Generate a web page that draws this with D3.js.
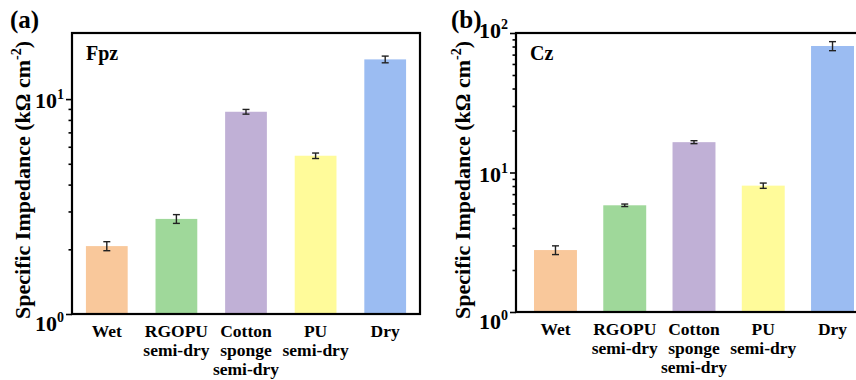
<!DOCTYPE html>
<html>
<head>
<meta charset="utf-8">
<script src="https://cdn.jsdelivr.net/npm/d3@7"></script>
<style>
  body { margin: 0; background: #fff; }
</style>
</head>
<body>
<div id="chart"></div>
<script>
// categories (multi-line labels)
const categories = ["Wet", "RGOPU|semi-dry", "Cotton|sponge|semi-dry", "PU|semi-dry", "Dry"];
const barColors = ["#f9c89b", "#9fd89a", "#c0b0d6", "#fffb9a", "#9bbcf2"];

// panel (a) Fpz
const fpzValues = [2.07, 2.77, 8.73, 5.45, 15.3];
const fpzErrors = [0.10, 0.13, 0.22, 0.16, 0.55];

// panel (b) Cz
const czValues = [2.78, 5.82, 16.5, 8.05, 80.7];
const czErrors = [0.20, 0.12, 0.40, 0.35, 6.0];

const width = 856, height = 380;
const FONT = "'Liberation Serif', 'Times New Roman', Times, serif";

const svg = d3.select("#chart").append("svg")
    .attr("width", width)
    .attr("height", height)
    .style("display", "block");

function drawPanel(opts) {
    const {left, right, top, bottom, domain, values, errors, tag, name,
           majors, minors, padIn, padOut, titleX, tagX} = opts;

    const g = svg.append("g");

    const x = d3.scaleBand()
        .domain(d3.range(categories.length))
        .range([left, right])
        .paddingInner(padIn)
        .paddingOuter(padOut);

    const y = d3.scaleLog()
        .domain(domain)
        .range([bottom, top]);

    // bars
    g.selectAll("rect.bar")
        .data(values)
        .enter().append("rect")
        .attr("class", "bar")
        .attr("x", (d, i) => x(i))
        .attr("y", d => y(d))
        .attr("width", x.bandwidth())
        .attr("height", d => bottom - y(d))
        .style("fill", (d, i) => barColors[i]);

    // error bars
    const eb = g.selectAll("g.err")
        .data(values)
        .enter().append("g").attr("class", "err")
        .style("stroke", "#222")
        .style("stroke-width", 1.4);
    const cx = i => x(i) + x.bandwidth() / 2;
    eb.append("line")
        .attr("x1", (d, i) => cx(i)).attr("x2", (d, i) => cx(i))
        .attr("y1", (d, i) => y(d + errors[i])).attr("y2", (d, i) => y(d - errors[i]));
    eb.append("line")
        .attr("x1", (d, i) => cx(i) - 3.5).attr("x2", (d, i) => cx(i) + 3.5)
        .attr("y1", (d, i) => y(d + errors[i])).attr("y2", (d, i) => y(d + errors[i]));
    eb.append("line")
        .attr("x1", (d, i) => cx(i) - 3.5).attr("x2", (d, i) => cx(i) + 3.5)
        .attr("y1", (d, i) => y(d - errors[i])).attr("y2", (d, i) => y(d - errors[i]));

    // minor + major ticks
    const minorAxis = d3.axisLeft(y).tickValues(minors).tickFormat("").tickSize(3.5).tickSizeOuter(0);
    const majorAxis = d3.axisLeft(y).tickValues(majors).tickFormat("").tickSize(6).tickSizeOuter(0);
    [minorAxis, majorAxis].forEach(ax => {
        const a = g.append("g")
            .attr("transform", `translate(${left},0)`)
            .call(ax);
        a.select(".domain").remove();
        a.selectAll("line").style("stroke", "#000").style("stroke-width", 1.6);
    });

    // major tick labels 10^n (the bottom one sits a bit lower, the top one a bit higher)
    const lab = g.selectAll("text.ytick")
        .data(majors)
        .enter().append("text")
        .attr("class", "ytick")
        .attr("x", left - 8)
        .attr("y", d => y(d) + (d === domain[0] ? 17 : d === domain[1] ? 5 : 9))
        .attr("text-anchor", "end")
        .style("font-family", FONT)
        .style("font-weight", "bold")
        .style("font-size", "22px");
    lab.append("tspan").text("10");
    lab.append("tspan")
        .attr("dy", -9)
        .style("font-size", "14px")
        .text(d => Math.round(Math.log10(d)));

    // frame
    g.append("rect")
        .attr("x", left).attr("y", top)
        .attr("width", right - left).attr("height", bottom - top)
        .style("fill", "none")
        .style("stroke", "#000")
        .style("stroke-width", 2.2);

    // category labels
    const cl = g.selectAll("text.cat")
        .data(categories)
        .enter().append("text")
        .attr("class", "cat")
        .attr("text-anchor", "middle")
        .attr("y", bottom + 23)
        .style("font-family", FONT)
        .style("font-weight", "bold")
        .style("font-size", "17.5px");
    cl.each(function(d, i) {
        const t = d3.select(this);
        d.split("|").forEach((s, k) => {
            t.append("tspan")
                .attr("x", cx(i))
                .attr("dy", k === 0 ? 0 : 19)
                .text(s);
        });
    });

    // y title
    const yt = g.append("text")
        .attr("transform", `translate(${titleX},180) rotate(-90)`)
        .attr("text-anchor", "middle")
        .style("font-family", FONT)
        .style("font-weight", "bold")
        .style("font-size", "22px");
    yt.append("tspan").text("Specific Impedance (kΩ cm");
    yt.append("tspan").attr("dy", -9).style("font-size", "14px").text("-2");
    yt.append("tspan").attr("dy", 9).text(")");

    // panel tag and name
    g.append("text")
        .attr("x", tagX).attr("y", 28)
        .style("font-family", FONT)
        .style("font-weight", "bold")
        .style("font-size", "25px")
        .text(tag);
    g.append("text")
        .attr("x", left + 14).attr("y", 60)
        .style("font-family", FONT)
        .style("font-weight", "bold")
        .style("font-size", "20px")
        .text(name);
}

drawPanel({
    left: 72, right: 420, top: 33, bottom: 314,
    domain: [1, 20.3],
    values: fpzValues, errors: fpzErrors,
    tag: "(a)", name: "Fpz",
    majors: [1, 10],
    minors: [2, 3, 4, 5, 6, 7, 8, 9],
    padIn: 0.4, padOut: 0.2,
    titleX: 30, tagX: 10
});

drawPanel({
    left: 516, right: 872, top: 33, bottom: 312,
    domain: [1, 100],
    values: czValues, errors: czErrors,
    tag: "(b)", name: "Cz",
    majors: [1, 10, 100],
    minors: [2, 3, 4, 5, 6, 7, 8, 9, 20, 30, 40, 50, 60, 70, 80, 90],
    padIn: 0.38, padOut: 0.26,
    titleX: 470, tagX: 451
});
</script>
</body>
</html>
